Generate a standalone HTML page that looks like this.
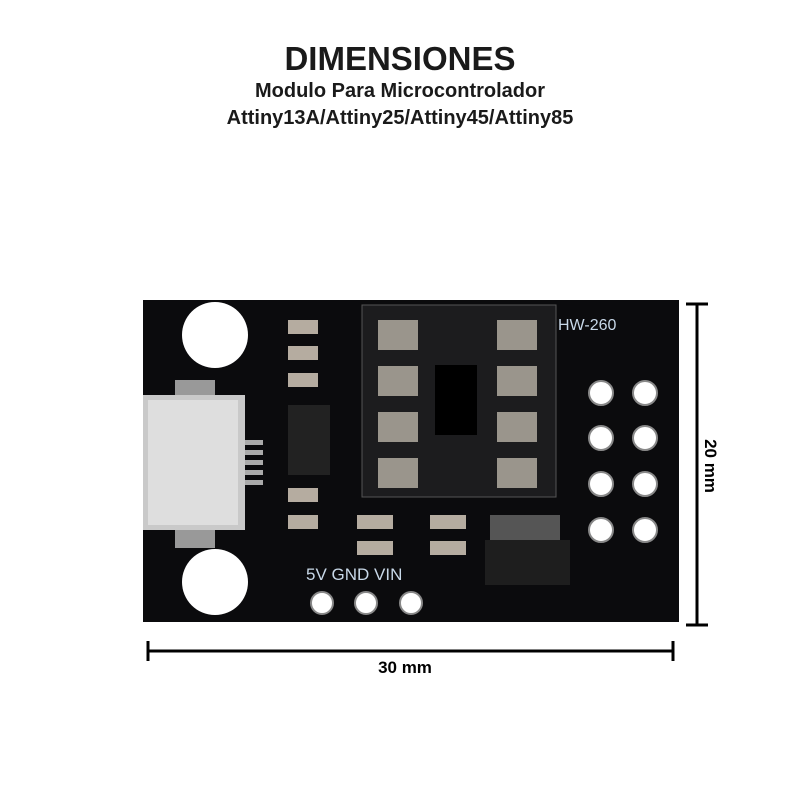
<!DOCTYPE html>
<html><head><style>
body{margin:0;width:800px;height:800px;background:#fff;position:relative;font-family:"Liberation Sans",sans-serif;overflow:hidden}
.t{position:absolute;left:0;width:800px;text-align:center;font-weight:bold;color:#1a1a1a}
</style></head><body>
<div class="t" style="top:40px;font-size:33px">DIMENSIONES</div>
<div class="t" style="top:80px;font-size:20px">Modulo Para Microcontrolador</div>
<div class="t" style="top:107px;font-size:20px">Attiny13A/Attiny25/Attiny45/Attiny85</div>
<svg width="800" height="800" style="position:absolute;left:0;top:0">
<rect x="143" y="300" width="536" height="322" fill="#0b0b0d"/>
<circle cx="215" cy="335" r="33" fill="#fff"/>
<circle cx="215" cy="582" r="33" fill="#fff"/>
<rect x="175" y="380" width="40" height="18" fill="#999"/>
<rect x="175" y="530" width="40" height="18" fill="#999"/>
<rect x="143" y="395" width="102" height="135" fill="#c9c9c9"/>
<rect x="148" y="400" width="90" height="125" fill="#dedede"/>
<g fill="#aaa"><rect x="245" y="440" width="18" height="5"/><rect x="245" y="450" width="18" height="5"/><rect x="245" y="460" width="18" height="5"/><rect x="245" y="470" width="18" height="5"/><rect x="245" y="480" width="18" height="5"/></g>
<rect x="362" y="305" width="194" height="192" fill="#1c1c1e" stroke="#555"/>
<rect x="435" y="365" width="42" height="70" fill="#000"/>
<g fill="#9a958c">
<rect x="378" y="320" width="40" height="30"/><rect x="378" y="366" width="40" height="30"/><rect x="378" y="412" width="40" height="30"/><rect x="378" y="458" width="40" height="30"/>
<rect x="497" y="320" width="40" height="30"/><rect x="497" y="366" width="40" height="30"/><rect x="497" y="412" width="40" height="30"/><rect x="497" y="458" width="40" height="30"/>
</g>
<g fill="#b5aca0">
<rect x="288" y="320" width="30" height="14"/><rect x="288" y="346" width="30" height="14"/><rect x="288" y="373" width="30" height="14"/>
<rect x="288" y="488" width="30" height="14"/><rect x="288" y="515" width="30" height="14"/>
<rect x="357" y="515" width="36" height="14"/><rect x="357" y="541" width="36" height="14"/><rect x="430" y="515" width="36" height="14"/><rect x="430" y="541" width="36" height="14"/>
</g>
<rect x="288" y="405" width="42" height="70" fill="#222"/>
<rect x="490" y="515" width="70" height="25" fill="#555"/>
<rect x="485" y="540" width="85" height="45" fill="#1e1e1e"/>
<g fill="#fff" stroke="#888" stroke-width="2">
<circle cx="601" cy="393" r="12"/><circle cx="645" cy="393" r="12"/>
<circle cx="601" cy="438" r="12"/><circle cx="645" cy="438" r="12"/>
<circle cx="601" cy="484" r="12"/><circle cx="645" cy="484" r="12"/>
<circle cx="601" cy="530" r="12"/><circle cx="645" cy="530" r="12"/>
<circle cx="322" cy="603" r="11"/><circle cx="366" cy="603" r="11"/><circle cx="411" cy="603" r="11"/>
</g>
<text x="306" y="580" fill="#c8d8e8" font-size="17" font-family="Liberation Sans">5V GND VIN</text>
<text x="558" y="330" fill="#c8d8e8" font-size="16" font-family="Liberation Sans">HW-260</text>
<g stroke="#000" stroke-width="3">
<line x1="148" y1="651" x2="673" y2="651"/><line x1="148" y1="641" x2="148" y2="661"/><line x1="673" y1="641" x2="673" y2="661"/>
<line x1="697" y1="304" x2="697" y2="625"/><line x1="686" y1="304" x2="708" y2="304"/><line x1="686" y1="625" x2="708" y2="625"/>
</g>
<text x="405" y="673" text-anchor="middle" font-size="17" font-weight="bold" font-family="Liberation Sans">30 mm</text>
<text transform="translate(705,466) rotate(90)" text-anchor="middle" font-size="17" font-weight="bold" font-family="Liberation Sans">20 mm</text>
</svg>
</body></html>
